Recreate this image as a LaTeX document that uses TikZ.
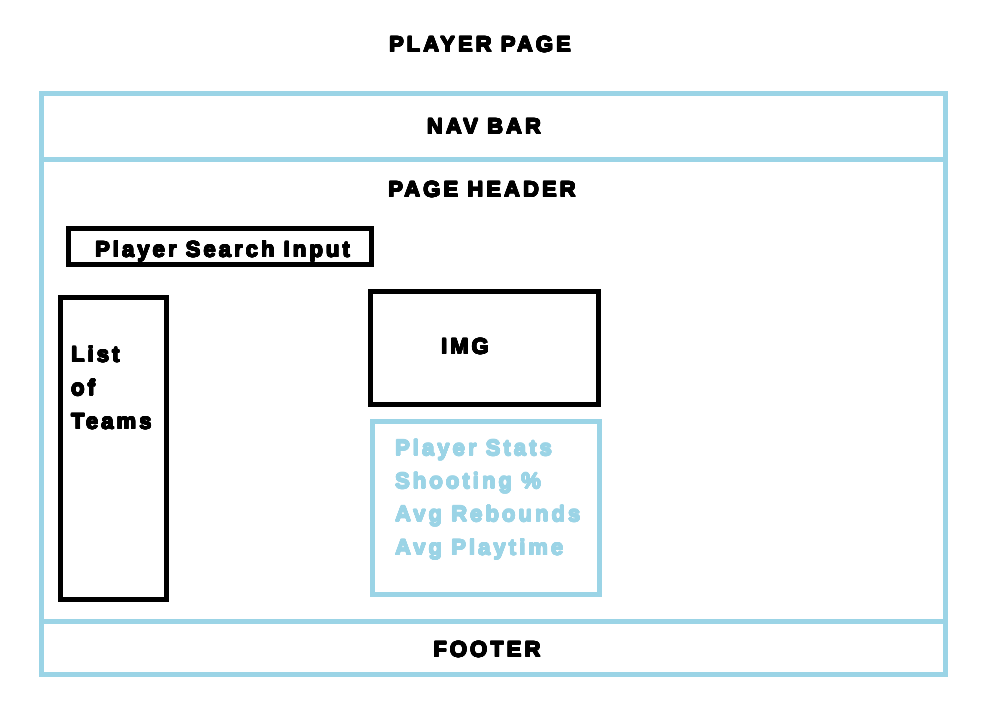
\documentclass[tikz,border=0pt]{standalone}
\usepackage{fontspec}
\usepackage[copies]{contour}
\newfontfamily\heavyfont{Liberation Sans Bold}[LetterSpace=14]
\definecolor{frameblue}{RGB}{155,212,230}
\contourlength{0.55pt}
\contournumber{16}
\newcommand{\heavytext}[2]{\contour{#1}{\textcolor{#1}{#2}}}
\begin{document}
\begin{tikzpicture}[x=1pt,y=-1pt,
  region/.style={draw=frameblue,line width=5pt,rectangle,inner sep=0pt},
  widget/.style={draw=black,line width=5pt,rectangle,inner sep=0pt},
  lbl/.style={inner sep=0pt,font=\heavyfont\fontsize{22}{26}\selectfont}]
\useasboundingbox (0,0) rectangle (988,702);
\fill[white] (0,0) rectangle (988,702);

% page regions
\node[region,minimum width=904pt,minimum height=66pt] (navbar) at (493.5,126.5) {};
\node[region,minimum width=904pt,minimum height=462pt] (body) at (493.5,390.5) {};
\node[region,minimum width=904pt,minimum height=52.5pt] (footer) at (493.5,647.75) {};

% widgets
\node[widget,minimum width=303pt,minimum height=36pt] (search) at (220,246.5) {};
\node[widget,minimum width=106pt,minimum height=301.5pt] (teams) at (113,448.25) {};
\node[widget,minimum width=228pt,minimum height=113pt] (img) at (484,347.5) {};
\node[region,minimum width=227pt,minimum height=173pt] (stats) at (486,508) {};

% labels
\node[lbl,anchor=base] (title) at (480,52) {\heavytext{black}{PLAYER PAGE}};
\node[lbl,anchor=base] (navtxt) at (484,134) {\heavytext{black}{NAV BAR}};
\node[lbl,anchor=base] (headtxt) at (482,197) {\heavytext{black}{PAGE HEADER}};
\node[lbl,anchor=base west] (searchtxt) at (95,257) {\heavytext{black}{Player Search Input}};
\node[lbl,anchor=base west] (teams1) at (71,362) {\heavytext{black}{List}};
\node[lbl,anchor=base west] (teams2) at (71,395.5) {\heavytext{black}{of}};
\node[lbl,anchor=base west] (teams3) at (71,429) {\heavytext{black}{Teams}};
\node[lbl,anchor=base] (imgtxt) at (465,354) {\heavytext{black}{IMG}};
\node[lbl,anchor=base west] (stat1) at (395,455.5) {\heavytext{frameblue}{Player Stats}};
\node[lbl,anchor=base west] (stat2) at (395,488.5) {\heavytext{frameblue}{Shooting \%}};
\node[lbl,anchor=base west] (stat3) at (395,521.5) {\heavytext{frameblue}{Avg Rebounds}};
\node[lbl,anchor=base west] (stat4) at (395,555) {\heavytext{frameblue}{Avg Playtime}};
\node[lbl,anchor=base] (foottxt) at (487,657) {\heavytext{black}{FOOTER}};
\end{tikzpicture}
\end{document}
